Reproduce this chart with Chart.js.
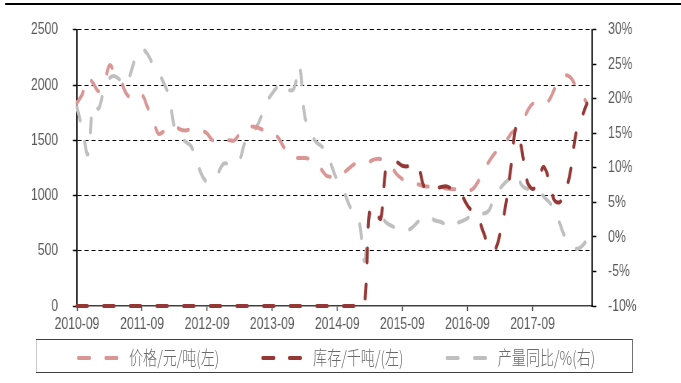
<!DOCTYPE html>
<html lang="zh-CN">
<head>
<meta charset="utf-8">
<title>价格、库存与产量同比</title>
<script src="https://cdn.jsdelivr.net/npm/chart.js@4.4.1/dist/chart.umd.min.js"></script>
<style>
  html, body { margin:0; padding:0; background:#fff; width:681px; height:383px; overflow:hidden; }
  /* the figure is laid out on a wider stage and narrowed to the page width */
  #stage { position:absolute; left:0; top:0; width:920px; height:383px; transform:scaleX(0.74022); transform-origin:0 0; }
  #topRule { position:absolute; left:7px; top:3px; width:913px; height:2px; background:#000; }
  #plot { position:absolute; left:0; top:0; }
  #legend { position:absolute; left:48px; top:339px; width:807px; height:34px; border:1.6px solid #3f3f3f; box-sizing:border-box; }
  .sw { position:absolute; top:356px; height:4px; width:19px; border-radius:2px; }
  .lt { position:absolute; top:346px; height:22px; line-height:22px; font-family:'Noto Sans CJK SC', sans-serif; font-weight:300; font-size:19px; color:#6a6a6a; white-space:nowrap; }
</style>
</head>
<body>
<div id="stage">
  <div id="topRule"></div>
  <canvas id="plot" width="920" height="340"></canvas>
  <div id="legend"></div>
</div>
<script>
// monthly categories, 2010-09 .. 2018-08
const months = [
  '2010-09','2010-10','2010-11','2010-12',
  '2011-01','2011-02','2011-03','2011-04','2011-05','2011-06','2011-07','2011-08','2011-09','2011-10','2011-11','2011-12',
  '2012-01','2012-02','2012-03','2012-04','2012-05','2012-06','2012-07','2012-08','2012-09','2012-10','2012-11','2012-12',
  '2013-01','2013-02','2013-03','2013-04','2013-05','2013-06','2013-07','2013-08','2013-09','2013-10','2013-11','2013-12',
  '2014-01','2014-02','2014-03','2014-04','2014-05','2014-06','2014-07','2014-08','2014-09','2014-10','2014-11','2014-12',
  '2015-01','2015-02','2015-03','2015-04','2015-05','2015-06','2015-07','2015-08','2015-09','2015-10','2015-11','2015-12',
  '2016-01','2016-02','2016-03','2016-04','2016-05','2016-06','2016-07','2016-08','2016-09','2016-10','2016-11','2016-12',
  '2017-01','2017-02','2017-03','2017-04','2017-05','2017-06','2017-07','2017-08','2017-09','2017-10','2017-11','2017-12',
  '2018-01','2018-02','2018-03','2018-04','2018-05','2018-06','2018-07','2018-08'
];

// axis labels that are printed under the x axis
const shownMonths = ['2010-09','2011-09','2012-09','2013-09','2014-09','2015-09','2016-09','2017-09'];
const leftTickValues = [0, 500, 1000, 1500, 2000, 2500];
const rightTickValues = [-10, -5, 0, 5, 10, 15, 20, 25, 30];

// 价格, 元/吨 (left axis)
const price = [
  1840, 1920, 2070, 2015,
  1945, 2010, 2180, 2110, 2050, 1930, 1880, 1880, 1910, 1800, 1690, 1560,
  1580, 1610, 1630, 1600, 1590, 1600, 1600, 1590, 1560, 1500, 1497, 1497,
  1500, 1500, 1560, 1610, 1625, 1620, 1600, 1590, 1560, 1530, 1450, 1380,
  1345, 1340, 1340, 1330, 1300, 1240, 1180, 1170, 1170, 1200, 1240, 1280,
  1300, 1310, 1310, 1330, 1330, 1300, 1260, 1190, 1150, 1125, 1110, 1100,
  1085, 1080, 1070, 1065, 1065, 1060, 1055, 1050, 1045, 1060, 1130, 1230,
  1310, 1380, 1430, 1480, 1560, 1600, 1640, 1760, 1830, 1840, 1845, 1860,
  1960, 2050, 2090, 2070, 1990, 1920, 1840, null
];

// 库存, 千吨 (left axis)
const inventory = [
  0, 0, 0, 0,
  0, 0, 0, 0, 0, 0, 0, 0, 0, 0, 0, 0,
  0, 0, 0, 0, 0, 0, 0, 0, 0, 0, 0, 0,
  0, 0, 0, 0, 0, 0, 0, 0, 0, 0, 0, 0,
  0, 0, 0, 0, 0, 0, 0, 0, 0, 0, 0, 0,
  0, 0, 890, 860, 790, 1250, 1290, 1300, 1270, 1265, 1285, 1250,
  1080, 1060, 1070, 1075, 1085, 1065, 1040, 995, 910, 850, 790, 660,
  540, 505, 650, 900, 1250, 1620, 1420, 1130, 1060, 1110, 1260, 1150,
  960, 940, 1030, 1220, 1560, 1700, 1830, null
];

// 产量同比, % (right axis)
const outputYoY = [
  18.8, 15.5, 12.0, 19.2,
  18.6, 21.5, 23.0, 23.3, 22.7, 22.0, 24.0, 26.5, 27.2, 26.5, 25.0, 23.8,
  22.3, 20.3, 15.8, 14.7, 13.8, 13.2, 11.2, 9.0, 8.0, 8.5, 9.3, 10.6,
  10.6, 10.6, 11.2, 13.8, 15.0, 15.8, 17.5, 19.6, 20.8, 21.8, 22.3, 21.3,
  21.5, 24.8, 17.5, 15.5, 13.8, 13.2, 12.5, 10.2, 8.2, 7.0, 5.0, 3.3,
  2.4, -3.5, 3.2, 3.6, 3.0, 2.1, 1.6, 1.3, 1.2, 1.0, 1.5, 2.3,
  2.7, 2.9, 2.4, 2.2, 1.8, 1.5, 2.0, 2.3, 2.7, 3.3, 3.6, 3.4,
  3.9, 5.8, 7.0, 7.9, 8.6, 9.2, 7.5, 7.0, 7.3, 6.9, 5.9, 5.1,
  4.1, 2.0, 0.0, -1.0, -1.7, -1.4, -0.5, 0.1
];

const series = [
  { label: '价格/元/吨(左)', data: price, color: '#D99694', axis: 'y', order: 1, swatchX: [103.6, 140.5], textX: 174.3 },
  { label: '库存/千吨/(左)', data: inventory, color: '#953735', axis: 'y', order: 0, swatchX: [352.5, 389.4], textX: 423 },
  { label: '产量同比/%(右)', data: outputYoY, color: '#BFBFBF', axis: 'y1', order: 2, swatchX: [602, 638.9], textX: 672.5 }
];

Chart.defaults.font.family = "'Liberation Sans', Arial, sans-serif";
Chart.defaults.color = '#595959';

const isShown = i => shownMonths.includes(months[i]);

new Chart(document.getElementById('plot'), {
  type: 'line',
  data: {
    labels: months,
    datasets: series.map(s => ({
      label: s.label,
      data: s.data,
      yAxisID: s.axis,
      order: s.order,
      borderColor: s.color,
      backgroundColor: s.color,
      borderWidth: 4,
      borderDash: [14, 22],
      borderCapStyle: 'round',
      borderJoinStyle: 'round',
      pointRadius: 0,
      tension: 0.35,
      fill: false,
      clip: 8
    }))
  },
  options: {
    responsive: false,
    animation: false,
    devicePixelRatio: 1,
    layout: { padding: { top: 26, left: 0, right: 0, bottom: 0 } },
    plugins: { legend: { display: false }, tooltip: { enabled: false } },
    scales: {
      x: {
        type: 'category',
        afterFit: s => { s.height = 34; },
        grid: {
          display: true,
          drawOnChartArea: false,
          drawTicks: true,
          tickLength: 5,
          tickWidth: 1.5,
          tickColor: ctx => isShown(ctx.index) ? '#404040' : 'rgba(0,0,0,0)'
        },
        border: { display: true, color: '#404040', width: 1.5 },
        ticks: {
          autoSkip: false,
          maxRotation: 0,
          minRotation: 0,
          padding: 4,
          font: { size: 16.5 },
          callback: (v, i) => isShown(i) ? months[i] : ''
        }
      },
      y: {
        position: 'left',
        min: 0,
        max: 2500,
        afterFit: s => { s.width = 104; },
        afterBuildTicks: s => { s.ticks = leftTickValues.map(v => ({ value: v })); },
        grid: {
          color: ctx => (ctx.tick && ctx.tick.value === 0) ? 'rgba(0,0,0,0)' : '#000',
          lineWidth: 1,
          tickLength: 5.5,
          tickColor: '#000',
          tickWidth: 1.5
        },
        border: { display: true, color: '#000', width: 1.8, dash: [5.4, 4] },
        ticks: { padding: 20, font: { size: 16.5 }, callback: v => String(v) }
      },
      y1: {
        position: 'right',
        min: -10,
        max: 30,
        afterFit: s => { s.width = 120; },
        afterBuildTicks: s => { s.ticks = rightTickValues.map(v => ({ value: v })); },
        grid: { drawOnChartArea: false, tickLength: 5.5, tickColor: '#000', tickWidth: 1.5 },
        border: { display: true, color: '#000', width: 1.8 },
        ticks: { padding: 16, font: { size: 16.5 }, callback: v => v + '%' }
      }
    }
  }
});

// legend row below the plot
const stage = document.getElementById('stage');
series.forEach(s => {
  s.swatchX.forEach(x => {
    const d = document.createElement('div');
    d.className = 'sw';
    d.style.left = x + 'px';
    d.style.background = s.color;
    stage.appendChild(d);
  });
  const t = document.createElement('div');
  t.className = 'lt';
  t.style.left = s.textX + 'px';
  t.textContent = s.label;
  stage.appendChild(t);
});
</script>
</body>
</html>
